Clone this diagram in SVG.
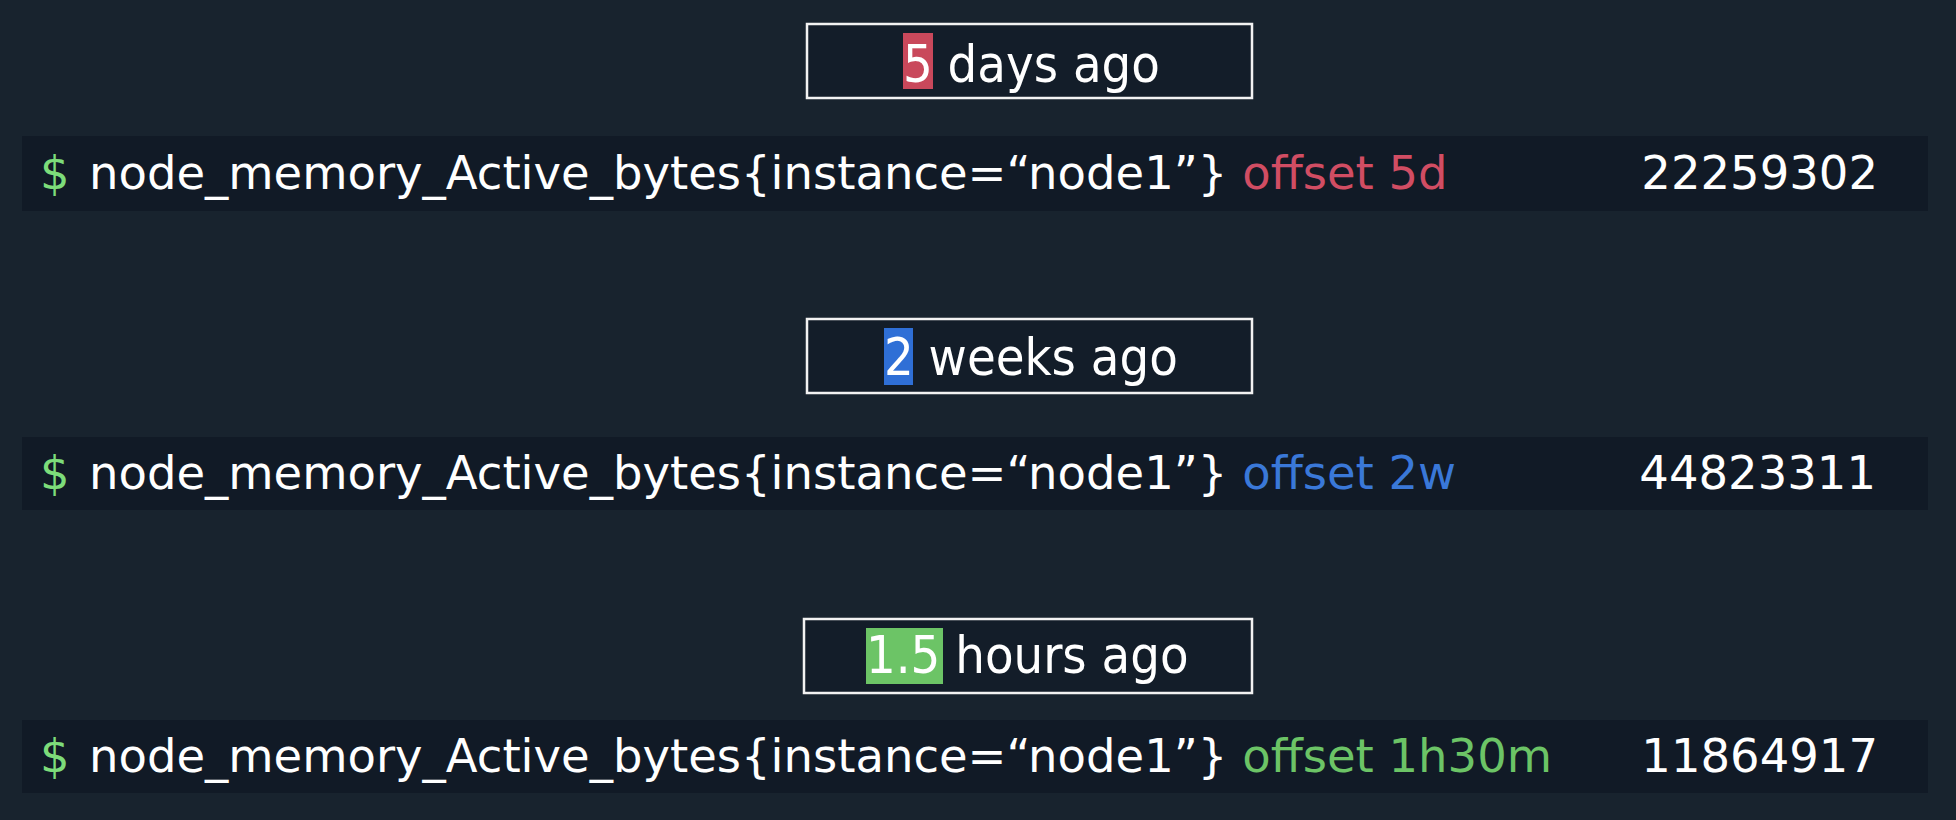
<svg xmlns="http://www.w3.org/2000/svg" width="1956" height="820" viewBox="0 0 1956 820">
  <style>
    .bg { fill: #18232e; }
    .bar { fill: #111a26; }
    .box { fill: #131d29; stroke: #f2f2f2; stroke-width: 2.5; }
    .cmd { font-family: "DejaVu Sans", "Liberation Sans", sans-serif; font-size: 46.5px; fill: #ffffff; }
    .dollar { fill: #7ddc7a; }
    .label { font-family: "DejaVu Sans Condensed", "DejaVu Sans", sans-serif; font-stretch: condensed; font-size: 52px; fill: #ffffff; }
    .red { fill: #d14d63; }
    .blue { fill: #3a78d8; }
    .green { fill: #6cc466; }
    .hl-red { fill: #c9485b; }
    .hl-blue { fill: #2f6fd6; }
    .hl-green { fill: #6cc466; }
  </style>
  <rect class="bg" x="0" y="0" width="1956" height="820"/>

  <g id="label-5d">
    <rect class="box" x="807" y="24" width="445" height="74"/>
    <rect class="hl-red" x="903" y="33" width="30" height="56"/>
    <text class="label" x="903" y="82">5 days ago</text>
  </g>
  <g id="query-5d">
    <rect class="bar" x="22" y="136" width="1906" height="75"/>
    <text class="cmd dollar" x="40" y="189">$</text>
    <text class="cmd" x="89" y="189">node_memory_Active_bytes{instance=“node1”} <tspan class="red">offset 5d</tspan></text>
    <text class="cmd" x="1878" y="189" text-anchor="end">22259302</text>
  </g>

  <g id="label-2w">
    <rect class="box" x="807" y="319" width="445" height="74"/>
    <rect class="hl-blue" x="884" y="328" width="29" height="57"/>
    <text class="label" x="884" y="375">2 weeks ago</text>
  </g>
  <g id="query-2w">
    <rect class="bar" x="22" y="437" width="1906" height="73"/>
    <text class="cmd dollar" x="40" y="489">$</text>
    <text class="cmd" x="89" y="489">node_memory_Active_bytes{instance=“node1”} <tspan class="blue">offset 2w</tspan></text>
    <text class="cmd" x="1876" y="489" text-anchor="end">44823311</text>
  </g>

  <g id="label-1h30m">
    <rect class="box" x="804" y="619" width="448" height="74"/>
    <rect class="hl-green" x="866" y="628" width="77" height="56"/>
    <text class="label" x="866" y="673">1.5 hours ago</text>
  </g>
  <g id="query-1h30m">
    <rect class="bar" x="22" y="720" width="1906" height="73"/>
    <text class="cmd dollar" x="40" y="772">$</text>
    <text class="cmd" x="89" y="772">node_memory_Active_bytes{instance=“node1”} <tspan class="green">offset 1h30m</tspan></text>
    <text class="cmd" x="1878" y="772" text-anchor="end">11864917</text>
  </g>

  <g id="connectors"/>
</svg>
